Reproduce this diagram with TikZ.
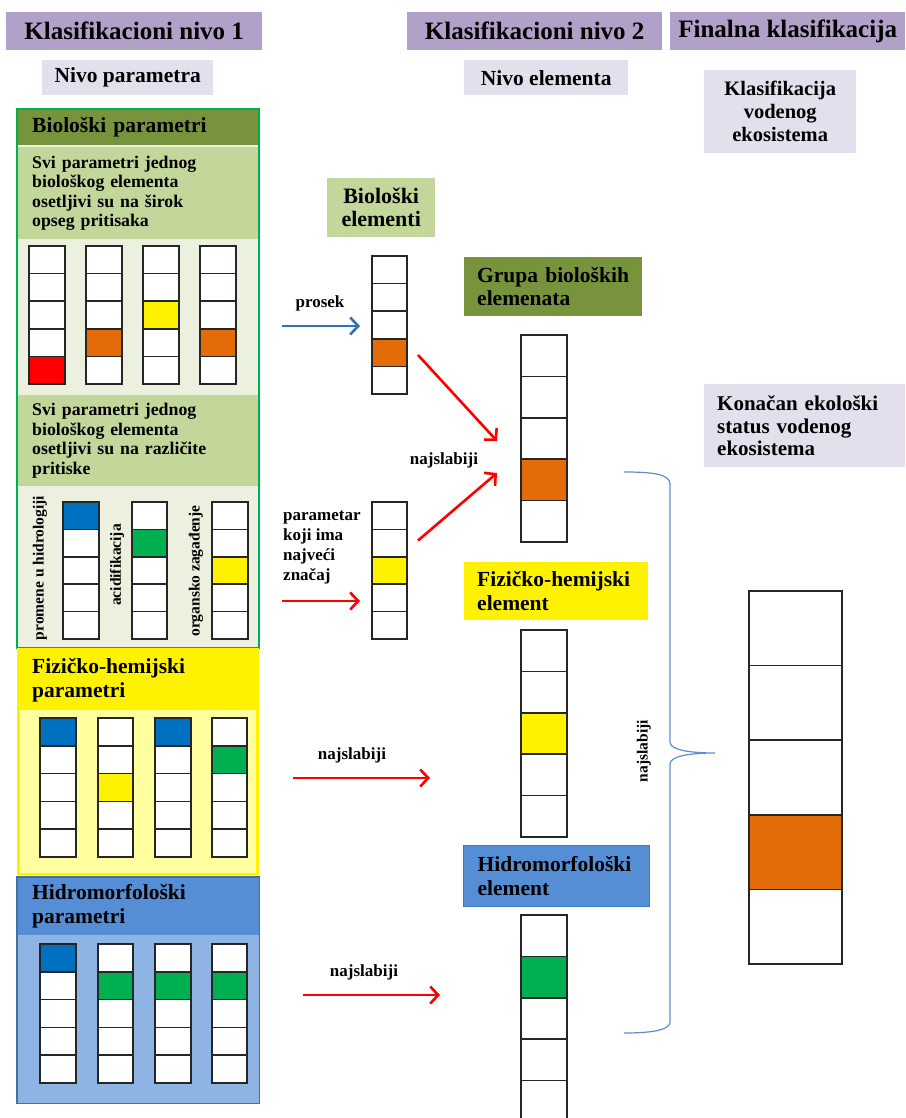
\documentclass[tikz,border=0pt]{standalone}
\usepackage{fontspec}
\setmainfont{Liberation Serif}
\usetikzlibrary{arrows.meta,calc}

\definecolor{hdrpurple}{HTML}{B1A0C7}
\definecolor{lavender}{HTML}{E4DFEC}
\definecolor{olive}{HTML}{77933C}
\definecolor{lgreen}{HTML}{C4D79B}
\definecolor{pgreen}{HTML}{EBF1DE}
\definecolor{bgreen}{HTML}{00B050}
\definecolor{cgreen}{HTML}{00B050}
\definecolor{pyellow}{HTML}{FFFFA0}
\definecolor{hblue}{HTML}{558ED5}
\definecolor{lblue}{HTML}{8DB4E2}
\definecolor{hborder}{HTML}{41719C}
\definecolor{eborder}{HTML}{3A7CC8}
\definecolor{cblue}{HTML}{0070C0}
\definecolor{corange}{HTML}{E36C09}
\definecolor{arrblue}{HTML}{2E75B6}
\definecolor{bracec}{HTML}{5B8FD0}

\tikzset{
  cell/.style={draw=black!85, line width=1.5pt},
  titlebox/.style={fill=hdrpurple, inner sep=0pt, anchor=north west, font=\fontsize{25}{28}\selectfont\bfseries},
  subbox/.style={fill=lavender, inner sep=0pt, anchor=north west, font=\fontsize{21.5}{24}\selectfont\bfseries},
  midfont/.style={font=\fontsize{21.5}{23.5}\selectfont\bfseries},
  bodyfont/.style={font=\fontsize{17.8}{19.6}\selectfont\bfseries},
  lbl/.style={inner sep=0pt, font=\fontsize{17}{20}\selectfont\bfseries},
  rotlbl/.style={inner sep=0pt, rotate=90, font=\fontsize{15.5}{18}\selectfont\bfseries},
  arr/.style={line width=2.6pt, -{Straight Barb[length=8pt,width=17pt]}},
  leftbox/.style={anchor=north west, inner ysep=0pt, align=left},
}

% column of five cells: name, x, ytop, width, cell height, coloured index, colour
\newcommand{\stupac}[7]{%
  \node[inner sep=0pt, outer sep=0pt, minimum width=#4pt, minimum height=5*#5pt, anchor=north west] (#1) at (#2,#3) {};
  \foreach \k in {1,...,5}{%
    \ifnum\k=#6\relax \def\fc{#7}\else\def\fc{white}\fi
    \draw[cell, fill=\fc] (#2,{#3+(\k-1)*#5}) rectangle ++(#4,#5);
  }%
}

\begin{document}
\begin{tikzpicture}[x=1pt,y=-1pt]
\useasboundingbox (0,0) rectangle (905,1118);

% ---------- headers ----------
\node[titlebox, minimum width=256pt, minimum height=38pt] (t1) at (6,12) {Klasifikacioni nivo 1};
\node[titlebox, minimum width=255pt, minimum height=38pt] (t2) at (407,12) {Klasifikacioni nivo 2};
\node[titlebox, minimum width=235pt, minimum height=38pt] (t3) at (670,12) {Finalna klasifikacija};

\node[subbox, minimum width=171pt, minimum height=35pt] (n1) at (42,60) {Nivo parametra};
\node[subbox, minimum width=164pt, minimum height=35pt] (n2) at (464,60) {Nivo elementa};
\node[subbox, minimum width=152pt, minimum height=83pt, align=center, font=\fontsize{20.5}{23}\selectfont\bfseries] (n3) at (704,70) {Klasifikacija\\vodenog\\ekosistema};
\node[fill=lavender, leftbox, midfont, font=\fontsize{21}{22.5}\selectfont\bfseries, minimum width=201pt, minimum height=83pt, inner xsep=13pt, text width=175pt] (konacan) at (704,384) {Konačan ekološki\\status vodenog\\ekosistema};

% ---------- biological panel ----------
\node[fill=pgreen, inner sep=0pt, anchor=north west, minimum width=242pt, minimum height=539pt] (biopanel) at (17,109) {};
\node[fill=olive, leftbox, midfont, minimum width=242pt, minimum height=36pt, inner xsep=15pt, text width=212pt] (bphdr) at (17,109) {Biološki parametri};
\node[fill=lgreen, leftbox, bodyfont, minimum width=240pt, minimum height=92pt, inner xsep=14pt, text width=212pt] (sv1) at (18,147) {Svi parametri jednog\\biološkog elementa\\osetljivi su na širok\\opseg pritisaka};
\node[fill=lgreen, leftbox, bodyfont, minimum width=240pt, minimum height=91pt, inner xsep=14pt, text width=212pt] (sv2) at (18,395) {Svi parametri jednog\\biološkog elementa\\osetljivi su na različite\\pritiske};
\draw[bgreen, line width=2pt] (biopanel.north west) rectangle (biopanel.south east);

\stupac{ba}{29}{246}{36}{27.6}{5}{red}
\stupac{bb}{86}{246}{36}{27.6}{4}{corange}
\stupac{bc}{143}{246}{36}{27.6}{3}{yellow}
\stupac{bd}{200}{246}{36}{27.6}{4}{corange}

\stupac{ha}{63}{502}{36}{27.4}{1}{cblue}
\stupac{hb}{132}{502}{35}{27.4}{2}{cgreen}
\stupac{hc}{212}{502}{36}{27.4}{3}{yellow}
\node[rotlbl] (lhid) at (40,568) {promene u hidrologiji};
\node[rotlbl] (lacid) at (117,565) {acidifikacija};
\node[rotlbl] (lorg) at (196,571) {organsko zagađenje};

% ---------- physico-chemical panel ----------
\node[fill=yellow, inner sep=0pt, anchor=north west, minimum width=242pt, minimum height=227pt] (fizpanel) at (17,648) {};
\fill[pyellow] (20,710) rectangle (256,873);
\node[anchor=west, align=left, inner sep=0pt, midfont, font=\fontsize{21.5}{24}\selectfont\bfseries] (fizhdr) at (32,680) {Fizičko-hemijski\\parametri};
\stupac{fa}{40}{718}{36}{27.8}{1}{cblue}
\stupac{fb}{98}{718}{35}{27.8}{3}{yellow}
\stupac{fc}{155}{718}{36}{27.8}{1}{cblue}
\stupac{fd}{212}{718}{35}{27.8}{2}{cgreen}

% ---------- hydromorphological panel ----------
\node[fill=lblue, inner sep=0pt, anchor=north west, minimum width=242pt, minimum height=226pt] (hidpanel) at (17,877) {};
\node[fill=hblue, leftbox, font=\fontsize{21.5}{24}\selectfont\bfseries, minimum width=242pt, minimum height=58pt, inner xsep=15pt, text width=212pt] (hidhdr) at (17,877) {Hidromorfološki\\parametri};
\draw[hborder, line width=1.5pt] (hidpanel.north west) rectangle (hidpanel.south east);
\stupac{ma}{40}{944}{36}{27.8}{1}{cblue}
\stupac{mb}{98}{944}{35}{27.8}{2}{cgreen}
\stupac{mc}{155}{944}{36}{27.8}{2}{cgreen}
\stupac{md}{212}{944}{35}{27.8}{2}{cgreen}

% ---------- level 2 ----------
\node[fill=lgreen, inner sep=0pt, anchor=north west, align=center, minimum width=108pt, minimum height=59pt, font=\fontsize{22}{23}\selectfont\bfseries] (bioelbox) at (327,178) {Biološki\\elementi};
\stupac{bioel}{372}{256}{35}{27.6}{4}{corange}
\stupac{param}{372}{502}{35}{27.4}{3}{yellow}

\node[fill=olive, leftbox, midfont, minimum width=178pt, minimum height=59pt, inner xsep=13pt, text width=152pt] (grupa) at (464,257) {Grupa bioloških\\elemenata};
\stupac{grupacol}{521}{335}{46}{41.4}{4}{corange}

\node[fill=yellow, leftbox, midfont, minimum width=184pt, minimum height=58pt, inner xsep=13pt, text width=158pt] (fizel) at (464,562) {Fizičko-hemijski\\element};
\stupac{fizcol}{521}{630}{46}{41.4}{3}{yellow}

\node[fill=hblue, draw=eborder, line width=1.2pt, leftbox, midfont, minimum width=186pt, minimum height=61pt, inner xsep=14pt, text width=158pt] (hidel) at (463,845) {Hidromorfološki\\element};
\stupac{hidcol}{521}{915}{46}{41.4}{2}{cgreen}

\stupac{final}{749}{591}{93}{74.6}{4}{corange}

% ---------- connectors ----------
\coordinate (pA) at (282,326);
\draw[arr, arrblue] (pA) -- ($(bioel.west)+(-12,1)$);
\node[lbl] (lprosek) at (320,303) {prosek};

\coordinate (pB) at (282,601);
\draw[arr, red] (pB) -- ($(pB -| param.west)+(-12,0)$);
\node[lbl, anchor=west, align=left] (lparam) at (283,548) {parametar\\koji ima\\najveći\\značaj};

\draw[arr, red] ($(bioel.east)+(11,30)$) -- ($(grupacol.west)+(-24,2.5)$);
\draw[arr, red] ($(param.east)+(11,-30)$) -- ($(grupacol.west)+(-24,34.5)$);
\node[lbl] (lnaj1) at (444,460) {najslabiji};

\coordinate (fA) at (293,778);
\draw[arr, red] (fA) -- ($(fA -| fizcol.west)+(-91,0)$);
\node[lbl] (lnaj2) at (352,755) {najslabiji};

\coordinate (hA) at (303,995);
\draw[arr, red] (hA) -- ($(hA -| hidcol.west)+(-81,0)$);
\node[lbl] (lnaj3) at (364,972) {najslabiji};

% ---------- brace ----------
\coordinate (brT) at (624,472);
\coordinate (brTip) at (715,753);
\coordinate (brB) at (624,1033);
\draw[bracec, line width=1.2pt] (brT) .. controls (652,472) and (670,474) .. (670,484)
  -- (670,742) .. controls (670,750) and (690,753) .. (brTip)
  .. controls (690,753) and (670,756) .. (670,764)
  -- (670,1022) .. controls (670,1030) and (652,1033) .. (brB);
\node[rotlbl] (lnaj4) at (644,751) {najslabiji};

\end{tikzpicture}
\end{document}
